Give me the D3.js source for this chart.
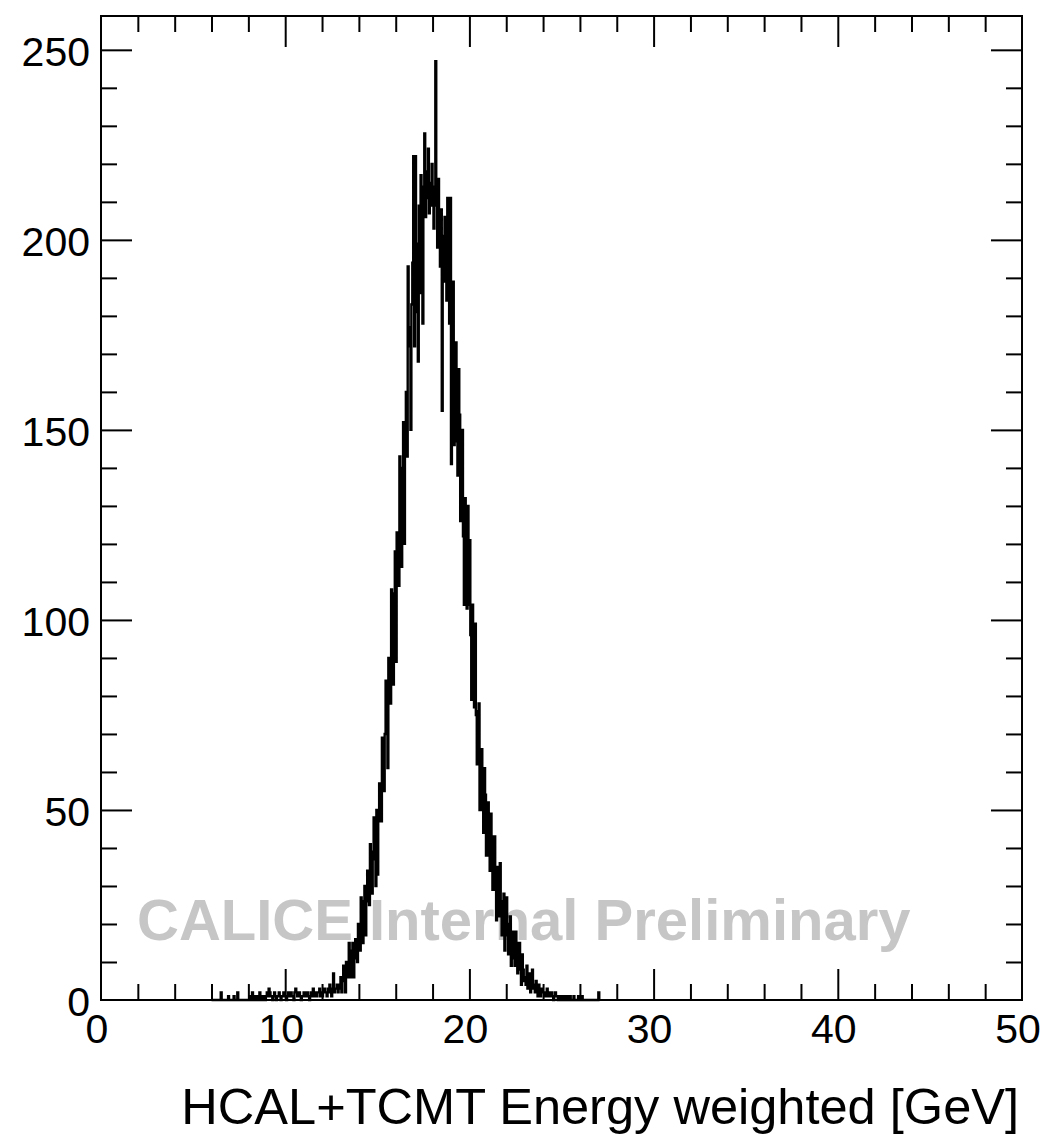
<!DOCTYPE html>
<html>
<head>
<meta charset="utf-8">
<script src="https://cdn.jsdelivr.net/npm/d3@7"></script>
<style>
  html, body { margin: 0; padding: 0; background: #fff; }
  svg { display: block; }
  text { font-family: "Liberation Sans", Arial, Helvetica, sans-serif; }
</style>
</head>
<body>
<svg id="chart" width="1046" height="1134"></svg>
<script>
// ---------------- data ----------------
const binStart = 6.0;      // GeV, lower edge of first bin
const binWidth = 0.05;     // GeV
// entries per bin, 20 bins per GeV, starting at 6.0 GeV
const counts = [
  // 6.0 - 7.0
  0,0,0,0,0,0,0,0,0,0, 2,0,0,0,0,0,0,0,1,0,
  // 7.0 - 8.0
  0,0,0,0,1,0,0,0,2,0, 0,0,0,0,0,0,0,0,0,0,
  // 8.0 - 9.0
  0,1,1,0,2,1,0,1,0,1, 1,0,2,1,0,0,1,1,0,1,
  // 9.0 - 10.0
  2,1,3,2,1,1,0,1,2,1, 0,1,1,2,1,0,1,1,2,1,
  // 10.0 - 11.0
  1,0,1,2,1,1,2,1,1,0, 2,3,2,1,1,2,1,0,1,1,
  // 11.0 - 12.0
  2,1,1,2,2,1,0,1,2,1, 3,1,2,1,1,2,2,3,1,2,
  // 12.0 - 13.0
  1,2,3,2,2,1,3,2,4,2, 1,3,7,2,3,3,4,2,3,4,
  // 13.0 - 14.0
  6,2,6,9,5,2,10,8,6,15, 9,6,13,15,6,13,16,11,10,20,
  // 14.0 - 15.0
  16,13,27,19,15,26,30,17,28,34, 26,25,41,39,28,39,48,37,30,50,
  // 15.0 - 16.0
  33,47,57,47,47,69,67,55,70,84, 70,61,90,85,78,108,91,83,107,118,
  // 16.0 - 17.0
  89,123,117,109,143,123,114,140,152,120, 145,160,143,193,177,172,150,183,194,222,
  // 17.0 - 18.0
  172,222,181,199,168,209,186,217,196,178, 214,228,206,218,211,224,207,215,209,220,
  // 18.0 - 19.0
  214,203,209,247,211,198,216,205,193,208, 155,201,189,206,195,184,211,190,178,211,
  // 19.0 - 20.0
  141,184,189,146,165,173,147,138,166,154, 126,140,150,122,104,132,118,103,130,104,
  // 20.0 - 21.0
  121,96,79,104,91,77,99,75,62,76, 78,50,62,66,50,44,61,54,38,46,
  // 21.0 - 22.0
  52,38,34,49,43,29,37,43,29,21, 35,29,22,36,24,17,26,28,13,20,
  // 22.0 - 23.0
  27,17,12,20,22,9,16,18,11,9, 18,15,7,12,15,8,4,12,8,5,
  // 23.0 - 24.0
  6,4,9,3,5,7,2,6,8,3, 4,2,5,3,1,4,2,1,3,2,
  // 24.0 - 25.0
  2,2,1,2,3,1,2,1,1,2, 1,0,1,2,1,1,0,1,1,0,
  // 25.0 - 26.0
  1,0,1,0,0,1,1,0,0,1, 0,0,0,1,0,0,0,0,1,0,
  // 26.0 - 27.0
  0,0,1,0,0,0,0,0,0,0, 0,0,0,0,0,0,0,0,0,0,
  // 27.0
  2
];
const xDomain = [0, 50];
const yDomain = [0, 258.9];
const xMajorTicks = [0, 10, 20, 30, 40, 50];
const xTickLabels = ["0", "10", "20", "30", "40", "50"];
const yMajorTicks = [0, 50, 100, 150, 200, 250];
const yTickLabels = ["0", "50", "100", "150", "200", "250"];
const xTitle = "HCAL+TCMT Energy weighted [GeV]";
const watermark = "CALICE Internal Preliminary";

// ---------------- layout ----------------
const L = 101, R = 1022, T = 16, B = 1000;
const svg = d3.select("#chart");
const x = d3.scaleLinear().domain(xDomain).range([L, R]);
const y = d3.scaleLinear().domain(yDomain).range([B, T]);

// watermark (behind histogram)
svg.append("text")
  .attr("x", 137).attr("y", 940)
  .attr("font-size", 58).attr("font-weight", "bold")
  .attr("fill", "#c6c6c6")
  .text(watermark);

// histogram as step line
const pts = [[binStart, 0]];
counts.forEach((c, i) => pts.push([binStart + i * binWidth, c]));
pts.push([binStart + counts.length * binWidth, counts[counts.length - 1]]);
pts.push([binStart + counts.length * binWidth, 0]);
const line = d3.line().x(d => x(d[0])).y(d => y(d[1])).curve(d3.curveStepAfter);
svg.append("path")
  .attr("d", line(pts))
  .attr("fill", "none")
  .attr("stroke", "#000")
  .attr("stroke-width", 2.4)
  .attr("stroke-linejoin", "miter");

// axes with ticks inside on all four sides (ROOT style)
const majorLen = 31, minorLen = 16;
const xMajorInner = xMajorTicks.filter(v => v > xDomain[0] && v < xDomain[1]);
const yMajorInner = yMajorTicks.filter(v => v > yDomain[0]);
const xMinor = d3.range(xDomain[0], xDomain[1] + 0.001, 2).filter(v => !xMajorTicks.includes(v));
const yMinor = d3.range(0, 251, 10).filter(v => !yMajorTicks.includes(v));

const bottomMajor = d3.axisBottom(x).tickValues(xMajorInner).tickSizeInner(-majorLen).tickSizeOuter(0).tickFormat("");
const bottomMinor = d3.axisBottom(x).tickValues(xMinor).tickSizeInner(-minorLen).tickSizeOuter(0).tickFormat("");
const topMajor = d3.axisTop(x).tickValues(xMajorInner).tickSizeInner(-majorLen).tickSizeOuter(0).tickFormat("");
const topMinor = d3.axisTop(x).tickValues(xMinor).tickSizeInner(-minorLen).tickSizeOuter(0).tickFormat("");
const leftMajor = d3.axisLeft(y).tickValues(yMajorInner).tickSizeInner(-majorLen).tickSizeOuter(0).tickFormat("");
const leftMinor = d3.axisLeft(y).tickValues(yMinor).tickSizeInner(-minorLen).tickSizeOuter(0).tickFormat("");
const rightMajor = d3.axisRight(y).tickValues(yMajorInner).tickSizeInner(-majorLen).tickSizeOuter(0).tickFormat("");
const rightMinor = d3.axisRight(y).tickValues(yMinor).tickSizeInner(-minorLen).tickSizeOuter(0).tickFormat("");

function addAxis(axis, tx, ty) {
  const g = svg.append("g").attr("transform", `translate(${tx},${ty})`).call(axis);
  g.select(".domain").remove();
  g.selectAll(".tick line").attr("stroke", "#000").attr("stroke-width", 2);
  return g;
}
addAxis(bottomMajor, 0, B); addAxis(bottomMinor, 0, B);
addAxis(topMajor, 0, T); addAxis(topMinor, 0, T);
addAxis(leftMajor, L, 0); addAxis(leftMinor, L, 0);
addAxis(rightMajor, R, 0); addAxis(rightMinor, R, 0);

// frame
svg.append("rect")
  .attr("x", L).attr("y", T).attr("width", R - L).attr("height", B - T)
  .attr("fill", "none").attr("stroke", "#000").attr("stroke-width", 2);

// tick labels
svg.append("g").selectAll("text").data(xMajorTicks).join("text")
  .attr("x", d => x(d) - 4).attr("y", 1043)
  .attr("text-anchor", "middle").attr("font-size", 41).attr("fill", "#000")
  .text((d, i) => xTickLabels[i]);
svg.append("g").selectAll("text").data(yMajorTicks).join("text")
  .attr("x", 90).attr("y", d => y(d) + 16)
  .attr("text-anchor", "end").attr("font-size", 41).attr("fill", "#000")
  .text((d, i) => yTickLabels[i]);

// x-axis title, right aligned at the frame end
const title = svg.append("text")
  .attr("x", 1019).attr("y", 1124)
  .attr("text-anchor", "end").attr("font-size", 46).attr("fill", "#000")
  .text(xTitle);
const w = title.node().getComputedTextLength();
if (w > 0) title.attr("font-size", 46 * 838 / w);
</script>
</body>
</html>
